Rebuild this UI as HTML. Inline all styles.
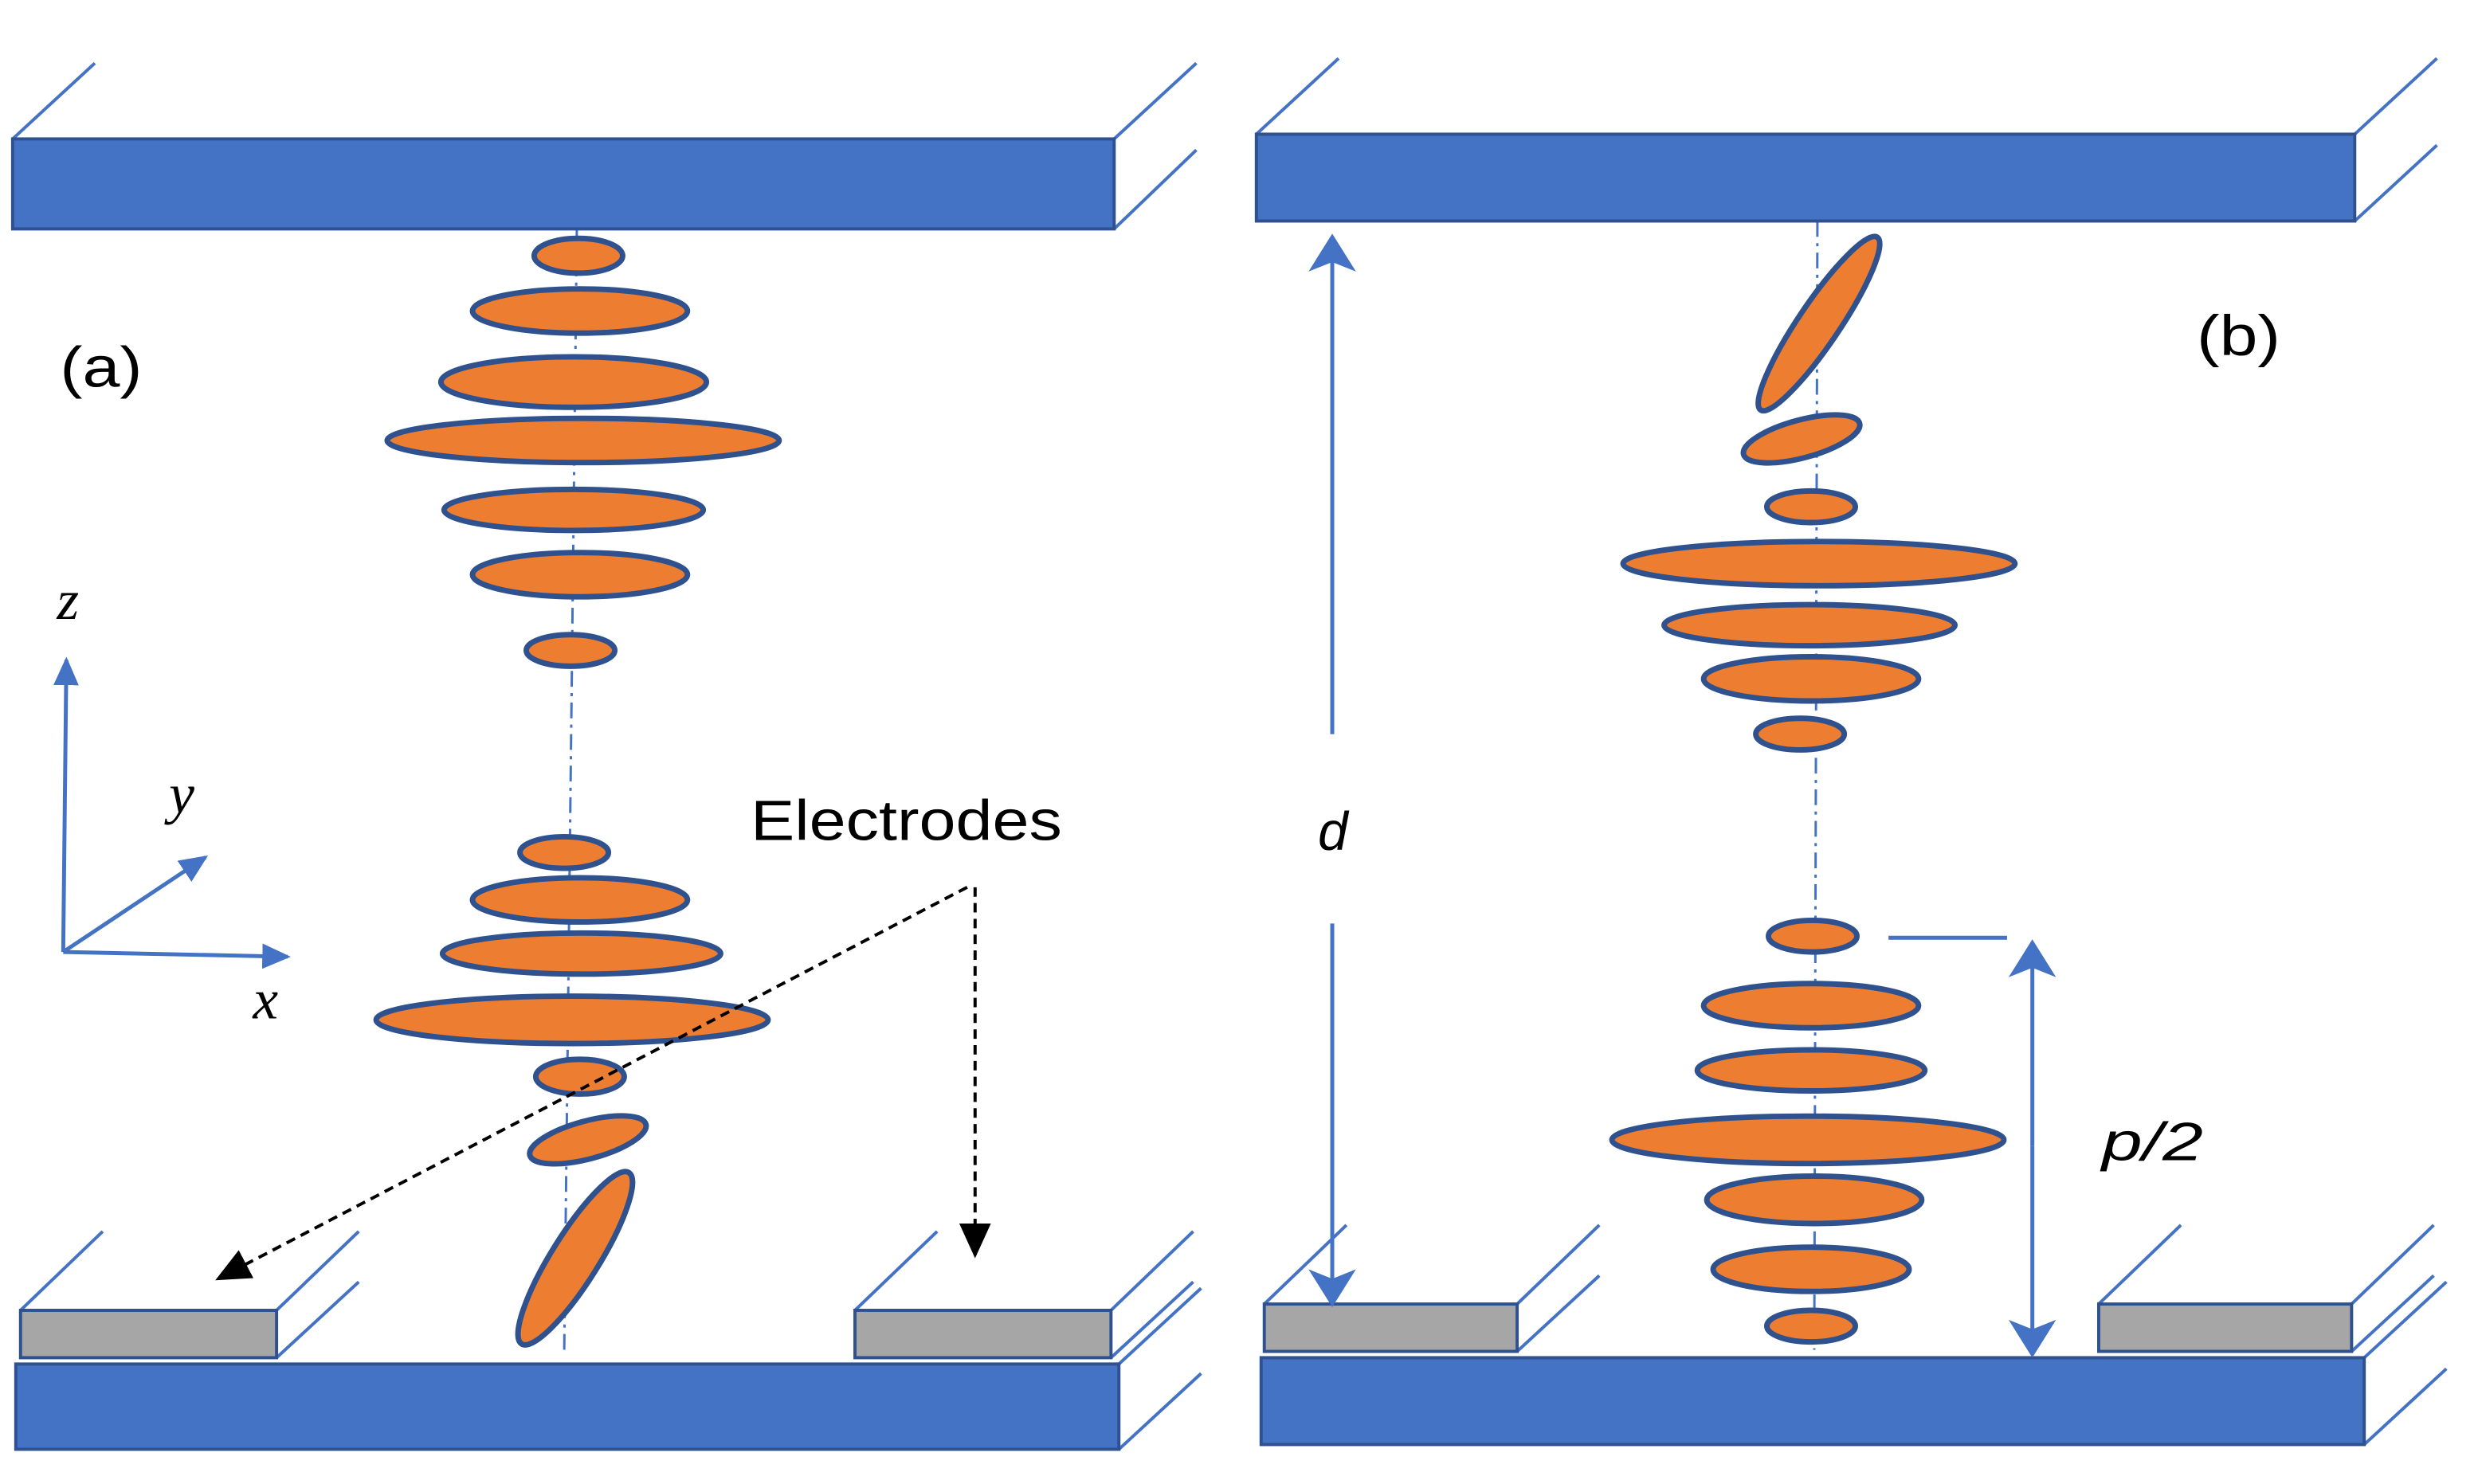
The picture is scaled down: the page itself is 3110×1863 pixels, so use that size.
<!DOCTYPE html>
<html><head><meta charset="utf-8"><style>html,body{margin:0;padding:0;background:#fff}svg{display:block}</style></head>
<body>
<svg width="3110" height="1863" viewBox="0 0 1568 940" preserveAspectRatio="none" xmlns="http://www.w3.org/2000/svg">
<defs>
<marker id="ab" markerWidth="24" markerHeight="30" refX="22" refY="15" orient="auto" markerUnits="userSpaceOnUse"><path d="M0,0 L24,15 L0,30 L6,15 z" fill="#4472C4"/></marker>
<marker id="af" markerWidth="18" markerHeight="16" refX="16" refY="8" orient="auto" markerUnits="userSpaceOnUse"><path d="M0,0 L18,8 L0,16 z" fill="#4472C4"/></marker>
<marker id="ak" markerWidth="22" markerHeight="20" refX="20" refY="10" orient="auto" markerUnits="userSpaceOnUse"><path d="M0,0 L22,10 L0,20 z" fill="#000"/></marker>
</defs>
<g stroke="#4472C4" stroke-width="2" fill="none">
<line x1="8" y1="88" x2="60" y2="40"/><line x1="705" y1="88" x2="757" y2="40"/><line x1="705" y1="145" x2="757" y2="95"/>
<line x1="13" y1="830" x2="65" y2="780"/><line x1="175" y1="830" x2="227" y2="780"/><line x1="175" y1="860" x2="227" y2="812"/>
<line x1="541" y1="830" x2="593" y2="780"/><line x1="703" y1="830" x2="755" y2="780"/><line x1="703" y1="860" x2="755" y2="812"/>
<line x1="708" y1="864" x2="760" y2="816"/><line x1="708" y1="918" x2="760" y2="870"/>
<line x1="795" y1="85" x2="847" y2="37"/><line x1="1490" y1="85" x2="1542" y2="37"/><line x1="1490" y1="140" x2="1542" y2="92"/>
<line x1="800" y1="826" x2="852" y2="776"/><line x1="960" y1="826" x2="1012" y2="776"/><line x1="960" y1="856" x2="1012" y2="808"/>
<line x1="1328" y1="826" x2="1380" y2="776"/><line x1="1488" y1="826" x2="1540" y2="776"/><line x1="1488" y1="856" x2="1540" y2="808"/>
<line x1="1496" y1="860" x2="1548" y2="812"/><line x1="1496" y1="915" x2="1548" y2="867"/>
<path d="M365,145 L357,858" stroke-dasharray="10,4,2,4" stroke-width="1.5"/>
<path d="M1150,140 L1148,855" stroke-dasharray="10,4,2,4" stroke-width="1.5"/>
</g>
<g fill="#4472C4" stroke="#2F528F" stroke-width="2">
<rect x="8" y="88" width="697" height="57"/>
<rect x="10" y="864" width="698" height="54"/>
<rect x="795" y="85" width="695" height="55"/>
<rect x="798" y="860" width="698" height="55"/>
</g>
<g fill="#A6A6A6" stroke="#2F528F" stroke-width="2">
<rect x="13" y="830" width="162" height="30"/><rect x="541" y="830" width="162" height="30"/>
<rect x="800" y="826" width="160" height="30"/><rect x="1328" y="826" width="160" height="30"/>
</g>
<g fill="#ED7D31" stroke="#2F528F" stroke-width="3.5">
<ellipse cx="366" cy="162" rx="28" ry="11"/>
<ellipse cx="367" cy="197" rx="68" ry="14"/>
<ellipse cx="363" cy="242" rx="84" ry="16"/>
<ellipse cx="369" cy="279" rx="124" ry="14"/>
<ellipse cx="363" cy="323" rx="82" ry="13"/>
<ellipse cx="367" cy="364" rx="68" ry="14"/>
<ellipse cx="361" cy="412" rx="28" ry="10"/>
<ellipse cx="357" cy="540" rx="28" ry="10"/>
<ellipse cx="367" cy="570" rx="68" ry="14"/>
<ellipse cx="368" cy="604" rx="88" ry="13"/>
<ellipse cx="362" cy="646" rx="124" ry="15"/>
<ellipse cx="367" cy="682" rx="28" ry="11"/>
<ellipse cx="372" cy="722" rx="38" ry="12" transform="rotate(-15 372 722)"/>
<ellipse cx="364" cy="797" rx="64" ry="15" transform="rotate(-58 364 797)"/>
<ellipse cx="1151" cy="205" rx="66" ry="13" transform="rotate(-56 1151 205)"/>
<ellipse cx="1140" cy="278" rx="38" ry="12" transform="rotate(-15 1140 278)"/>
<ellipse cx="1146" cy="321" rx="28" ry="10"/>
<ellipse cx="1151" cy="357" rx="124" ry="14"/>
<ellipse cx="1145" cy="396" rx="92" ry="13"/>
<ellipse cx="1146" cy="430" rx="68" ry="14"/>
<ellipse cx="1139" cy="465" rx="28" ry="10"/>
<ellipse cx="1147" cy="593" rx="28" ry="10"/>
<ellipse cx="1146" cy="637" rx="68" ry="14"/>
<ellipse cx="1146" cy="678" rx="72" ry="13"/>
<ellipse cx="1144" cy="722" rx="124" ry="15"/>
<ellipse cx="1148" cy="760" rx="68" ry="15"/>
<ellipse cx="1146" cy="804" rx="62" ry="14"/>
<ellipse cx="1146" cy="840" rx="28" ry="10"/>
</g>
<g stroke="#4472C4" stroke-width="2.5" fill="none">
<line x1="40" y1="603" x2="42" y2="418" marker-end="url(#af)"/>
<line x1="40" y1="603" x2="182" y2="606" marker-end="url(#af)"/>
<line x1="40" y1="603" x2="130" y2="543" marker-end="url(#af)"/>
</g>
<g stroke="#4472C4" stroke-width="2.5" fill="none">
<line x1="843" y1="465" x2="843" y2="150" marker-end="url(#ab)"/>
<line x1="843" y1="585" x2="843" y2="826" marker-end="url(#ab)"/>
<line x1="1195" y1="594" x2="1270" y2="594"/>
<line x1="1286" y1="726" x2="1286" y2="597" marker-end="url(#ab)"/>
<line x1="1286" y1="726" x2="1286" y2="858" marker-end="url(#ab)"/>
</g>
<g stroke="#000" stroke-width="2" stroke-dasharray="6,4" fill="none">
<line x1="612" y1="562" x2="138" y2="810" marker-end="url(#ak)"/>
<line x1="617" y1="562" x2="617" y2="795" marker-end="url(#ak)"/>
</g>
<g font-family="Liberation Sans, sans-serif" font-size="36" fill="#000">
<text x="38" y="245" textLength="52" lengthAdjust="spacingAndGlyphs">(a)</text>
<text x="1390" y="225" textLength="53" lengthAdjust="spacingAndGlyphs">(b)</text>
<text x="475" y="532" textLength="197" lengthAdjust="spacingAndGlyphs">Electrodes</text>
</g>
<g font-family="Liberation Serif, serif" font-style="italic" font-size="36" fill="#000">
<text x="36" y="392">z</text>
<text x="107" y="515">y</text>
<text x="160" y="645">x</text>
</g>
<g font-family="Liberation Sans, sans-serif" font-style="italic" font-size="34" fill="#000">
<text x="834" y="538">d</text>
<text x="1330" y="735" textLength="64" lengthAdjust="spacingAndGlyphs">p/2</text>
</g>
</svg>
</body></html>
